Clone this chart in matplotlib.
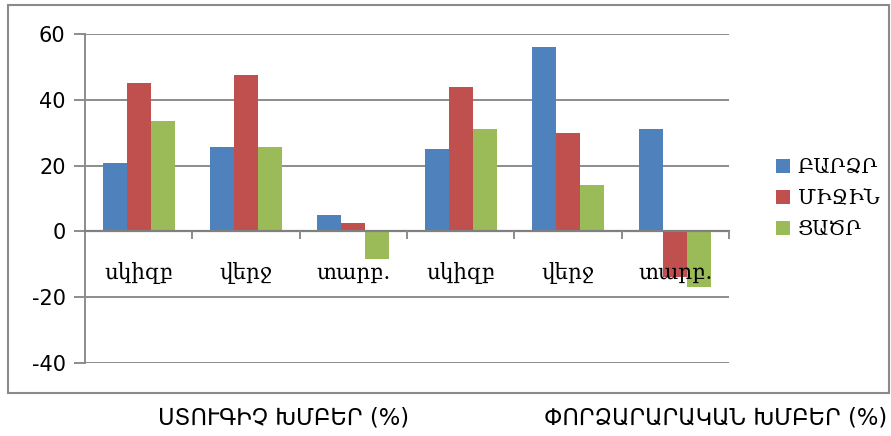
import numpy as np
import matplotlib.pyplot as plt
from matplotlib.patches import Rectangle

plt.rcParams['axes.unicode_minus'] = False

categories = ['սկիզբ', 'վերջ', 'տարբ.', 'սկիզբ', 'վերջ', 'տարբ.']
series_names = ['ԲԱՐՁՐ', 'ՄԻՋԻՆ', 'ՑԱԾՐ']
high = [20.7, 25.6, 4.9, 25.0, 55.9, 31.0]
medium = [45.1, 47.4, 2.6, 43.7, 29.9, -13.8]
low = [33.5, 25.6, -8.4, 31.0, 14.2, -16.9]
group_labels = ['ՍՏՈՒԳԻՉ ԽՄԲԵՐ (%)', 'ՓՈՐՁԱՐԱՐԱԿԱՆ ԽՄԲԵՐ (%)']
yticks = [-40, -20, 0, 20, 40, 60]

colors = ['#4F81BD', '#C0504D', '#9BBB59']
grid_c = '#8c8c8c'

fig = plt.figure(figsize=(8.91, 4.36), dpi=100)
fig.patches.append(Rectangle((8 / 891, 1 - 393 / 436), 881 / 891, 388 / 436,
                             transform=fig.transFigure, fill=False,
                             edgecolor='#8a8a8a', linewidth=1.5))
ax = fig.add_axes([85 / 891, 1 - 363.3 / 436, 644 / 891, 329.6 / 436])

# gridlines drawn by hand so tick labels can sit above the bars
for t in yticks:
    if t != 0:
        ax.axhline(t, color=grid_c, linewidth=1.4, zorder=1)

x = np.arange(len(categories))
w = 0.224
for i, vals in enumerate([high, medium, low]):
    ax.bar(x + (i - 1) * w, vals, w, color=colors[i], label=series_names[i], zorder=2)

ax.set_xlim(-0.5, len(categories) - 0.5)
ax.set_ylim(-40, 60)
ax.set_yticks(yticks)

for s in ['top', 'right']:
    ax.spines[s].set_visible(False)
ax.spines['left'].set_color(grid_c)
ax.spines['left'].set_linewidth(1.4)
ax.spines['bottom'].set_position(('data', 0))
ax.spines['bottom'].set_color('#808080')
ax.spines['bottom'].set_linewidth(1.6)

ax.tick_params(axis='y', length=8, width=1.4, color=grid_c, pad=6,
               labelsize=15, labelcolor='black')
ax.set_xticks(x)
ax.set_xticklabels(categories, family='DejaVu Serif', fontsize=15.5)
ax.tick_params(axis='x', length=0, pad=22)
ax.set_xticks(np.arange(0.5, len(categories), 1), minor=True)
ax.tick_params(axis='x', which='minor', length=6, width=1.4, color=grid_c, direction='out')
ax.xaxis.set_zorder(3)

leg = ax.legend(loc='center left', bbox_to_anchor=(1.06, 0.5), frameon=False,
                prop={'family': 'DejaVu Serif', 'size': 14.5},
                handlelength=0.7, handleheight=0.7, handletextpad=0.4,
                labelspacing=0.6, borderaxespad=0)

fig.text(284 / 891, 1 - 418 / 436, group_labels[0], ha='center', va='center', fontsize=16.3)
fig.text(716 / 891, 1 - 418 / 436, group_labels[1], ha='center', va='center', fontsize=16.3)

fig.savefig('out.png', dpi=100)
